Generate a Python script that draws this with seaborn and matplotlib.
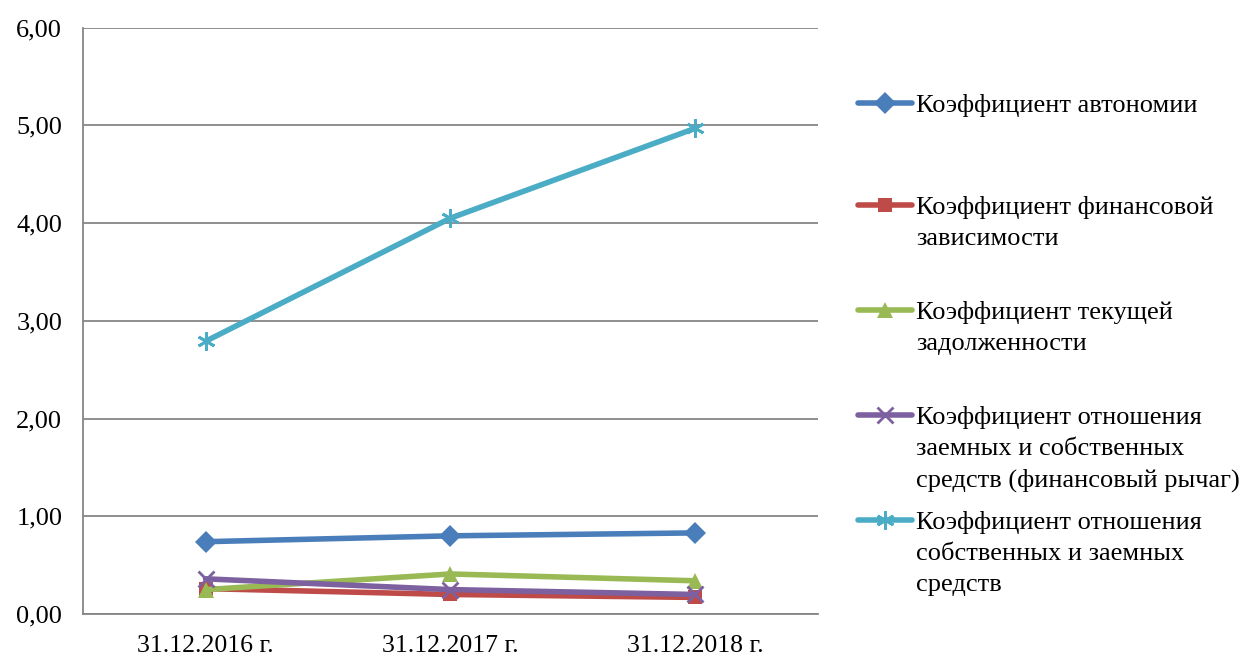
import matplotlib
matplotlib.use("Agg")
import matplotlib.pyplot as plt
from matplotlib.lines import Line2D
import seaborn as sns
import pandas as pd

dates = ["31.12.2016 г.", "31.12.2017 г.", "31.12.2018 г."]
autonomy = [0.74, 0.80, 0.83]
fin_dependence = [0.26, 0.20, 0.17]
current_debt = [0.25, 0.41, 0.34]
leverage = [0.36, 0.25, 0.20]
equity_to_debt = [2.79, 4.05, 4.97]

names = [
    "Коэффициент автономии",
    "Коэффициент финансовой\nзависимости",
    "Коэффициент текущей\nзадолженности",
    "Коэффициент отношения\nзаемных и собственных\nсредств (финансовый рычаг)",
    "Коэффициент отношения\nсобственных и заемных\nсредств",
]
series = [autonomy, fin_dependence, current_debt, leverage, equity_to_debt]
colors = ["#4A7EBB", "#BE4B48", "#98B954", "#7D60A0", "#4BACC6"]
markers = ["D", "s", "^", "x", (6, 2, 0)]
msizes = [11, 10, 11, 11, 13]

rows = []
for name, vals in zip(names, series):
    for i, (d, v) in enumerate(zip(dates, vals)):
        rows.append({"date": d, "pos": i, "series": name, "value": v})
df = pd.DataFrame(rows)

sns.set_theme(style="white")
plt.rcParams["font.family"] = ["Liberation Serif", "DejaVu Serif"]
plt.rcParams["text.color"] = "black"
plt.rcParams["xtick.labelcolor"] = "black"
plt.rcParams["ytick.labelcolor"] = "black"

fig = plt.figure(figsize=(12.47, 6.57), dpi=100)
ax = fig.add_axes([0.0666, 0.0654, 0.5893, 0.8927])

for name, col, mk, ms in zip(names, colors, markers, msizes):
    sub = df[df["series"] == name]
    sns.lineplot(data=sub, x="pos", y="value", ax=ax, color=col, linewidth=4,
                 marker=mk, markersize=ms, markeredgecolor=col,
                 markerfacecolor=col, markeredgewidth=2 if mk in ("x", (6, 2, 0)) else 0,
                 legend=False, zorder=3)

ax.set_xlim(-0.5, 2.5)
ax.set_ylim(0, 6)
ax.set_yticks(range(7))
ax.set_yticklabels([f"{v},00" for v in range(7)], fontsize=19)
ax.set_xticks([0, 1, 2])
ax.set_xticklabels(dates, fontsize=18.5)
ax.set_xticks([-0.5, 0.5, 1.5, 2.5], minor=True)
ax.tick_params(axis="x", which="major", length=0, pad=15, labelcolor="black")
ax.tick_params(axis="x", which="minor", length=7, width=1.3, color="#868686", direction="out")
ax.tick_params(axis="y", which="major", length=7, width=1.3, color="#868686", direction="out",
               pad=8, labelcolor="black")
ax.set_xlabel("")
ax.set_ylabel("")
ax.grid(axis="y", color="#868686", linewidth=1.3, zorder=0)
ax.set_axisbelow(True)
for s in ["top", "right"]:
    ax.spines[s].set_visible(False)
for s in ["left", "bottom"]:
    ax.spines[s].set_color("#868686")
    ax.spines[s].set_linewidth(1.3)

# legend entries laid out down the right side
W, H = 1247, 657
tops = [103, 205, 310, 415, 520]
line_step = 31.5
for name, col, mk, ms, yp in zip(names, colors, markers, msizes, tops):
    yf = 1 - yp / H
    fig.add_artist(Line2D([858 / W, 912 / W], [yf, yf], transform=fig.transFigure,
                          color=col, linewidth=4, solid_capstyle="round"))
    fig.add_artist(Line2D([885 / W], [yf], transform=fig.transFigure, color=col,
                          marker=mk, markersize=ms, markeredgecolor=col, markerfacecolor=col,
                          markeredgewidth=2 if mk in ("x", (6, 2, 0)) else 0, linestyle="none"))
    for k, part in enumerate(name.split("\n")):
        fig.text(916 / W, 1 - (yp + k * line_step) / H, part, fontsize=19, color="black",
                 ha="left", va="center_baseline", transform=fig.transFigure)

fig.savefig("out.png", dpi=100, facecolor="white")
